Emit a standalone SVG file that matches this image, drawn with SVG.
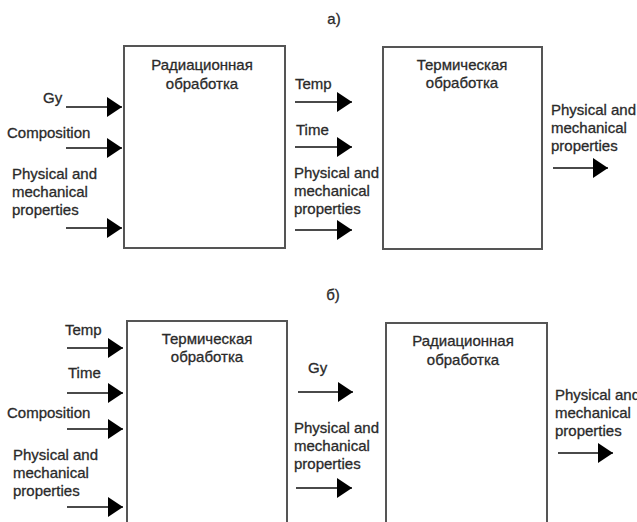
<svg xmlns="http://www.w3.org/2000/svg" width="637" height="522" viewBox="0 0 637 522">
  <defs>
    <style>
      .box { fill: #fff; stroke: #555; stroke-width: 2; }
      .t { font-family: "Liberation Sans", Arial, sans-serif; font-size: 15px; fill: #2a2a2a; stroke: #2a2a2a; stroke-width: 0.3; }
      .c { text-anchor: middle; }
      .arr { stroke: #4a4a4a; stroke-width: 2.2; fill: none; marker-end: url(#head); }
    </style>
    <marker id="head" markerUnits="userSpaceOnUse" markerWidth="16" markerHeight="22" refX="15" refY="10" orient="auto">
      <path d="M0,0 L15,10 L0,20 Z" fill="#000"/>
    </marker>
  </defs>
  <rect width="637" height="522" fill="#fff"/>

  <!-- scheme a) -->
  <text class="t c" x="334" y="24">а)</text>

  <g id="rad-a">
    <rect class="box" x="124" y="46" width="161" height="202"/>
    <text class="t c" x="202" y="70">Радиационная</text>
    <text class="t c" x="202" y="89">обработка</text>
  </g>

  <g id="therm-a">
    <rect class="box" x="383" y="47" width="159" height="202"/>
    <text class="t c" x="462" y="70">Термическая</text>
    <text class="t c" x="462" y="88">обработка</text>
  </g>

  <g id="labels-a">
    <text class="t" x="43" y="103">Gy</text>
    <text class="t" x="7" y="138">Composition</text>
    <text class="t" x="12" y="179">Physical and</text>
    <text class="t" x="12" y="197">mechanical</text>
    <text class="t" x="12" y="215">properties</text>

    <text class="t" x="295" y="89">Temp</text>
    <text class="t" x="296" y="135">Time</text>
    <text class="t" x="294" y="178">Physical and</text>
    <text class="t" x="294" y="196">mechanical</text>
    <text class="t" x="294" y="214">properties</text>

    <text class="t" x="551" y="115">Physical and</text>
    <text class="t" x="551" y="133">mechanical</text>
    <text class="t" x="551" y="151">properties</text>
  </g>

  <!-- scheme б) -->
  <text class="t c" x="333" y="300">б)</text>

  <g id="therm-b">
    <rect class="box" x="127" y="321" width="160" height="220"/>
    <text class="t c" x="207" y="344">Термическая</text>
    <text class="t c" x="207" y="362">обработка</text>
  </g>

  <g id="rad-b">
    <rect class="box" x="386" y="323" width="161" height="220"/>
    <text class="t c" x="463" y="346">Радиационная</text>
    <text class="t c" x="463" y="365">обработка</text>
  </g>

  <g id="labels-b">
    <text class="t" x="65" y="335">Temp</text>
    <text class="t" x="68" y="378">Time</text>
    <text class="t" x="7" y="418">Composition</text>
    <text class="t" x="13" y="460">Physical and</text>
    <text class="t" x="13" y="478">mechanical</text>
    <text class="t" x="13" y="496">properties</text>

    <text class="t" x="308" y="373">Gy</text>
    <text class="t" x="294" y="433">Physical and</text>
    <text class="t" x="294" y="451">mechanical</text>
    <text class="t" x="294" y="469">properties</text>

    <!-- output label runs to the right edge of the sheet -->
    <text class="t" x="555" y="400">Physical and</text>
    <text class="t" x="555" y="418">mechanical</text>
    <text class="t" x="555" y="436">properties</text>
  </g>

  <g id="connectors">
    <!-- a) inputs -->
    <line class="arr" x1="66" y1="107" x2="122" y2="107"/>
    <line class="arr" x1="66" y1="148" x2="122" y2="148"/>
    <line class="arr" x1="66" y1="228" x2="122" y2="228"/>
    <!-- a) between stages -->
    <line class="arr" x1="295" y1="102" x2="352" y2="102"/>
    <line class="arr" x1="295" y1="147" x2="352" y2="147"/>
    <line class="arr" x1="295" y1="230" x2="352" y2="230"/>
    <!-- a) output -->
    <line class="arr" x1="553" y1="168" x2="608" y2="168"/>

    <!-- б) inputs -->
    <line class="arr" x1="67" y1="348" x2="123" y2="348"/>
    <line class="arr" x1="67" y1="393" x2="123" y2="393"/>
    <line class="arr" x1="67" y1="429" x2="123" y2="429"/>
    <line class="arr" x1="67" y1="507" x2="123" y2="507"/>
    <!-- б) between stages -->
    <line class="arr" x1="298" y1="392" x2="353" y2="392"/>
    <line class="arr" x1="296" y1="488" x2="352" y2="488"/>
    <!-- б) output -->
    <line class="arr" x1="558" y1="453" x2="613" y2="453"/>
  </g>
</svg>
